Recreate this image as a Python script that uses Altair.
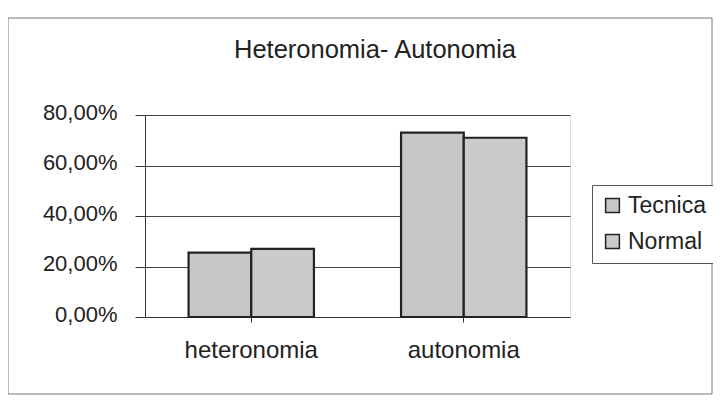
import altair as alt
import pandas as pd

categories = ["heteronomia", "heteronomia", "autonomia", "autonomia"]
series = ["Tecnica", "Normal", "Tecnica", "Normal"]
values = [0.255, 0.27, 0.73, 0.71]
title_text = "Heteronomia- Autonomia"

df = pd.DataFrame({"cat": categories, "serie": series, "val": values})

FONT = "Liberation Sans"
W, H = 425, 202

frame = alt.Chart(pd.DataFrame({"a": [0]})).mark_rect(
    fill=None, stroke="#777777", strokeWidth=1, clip=False
).encode(
    x=alt.value(-137), x2=alt.value(567), y=alt.value(-97), y2=alt.value(279)
)

title = alt.Chart(pd.DataFrame({"t": [title_text]})).mark_text(
    font=FONT, fontSize=25.5, color="#222222", align="center", baseline="alphabetic"
).encode(x=alt.value(230), y=alt.value(-57), text="t:N")

bars = alt.Chart(df).mark_bar(stroke="#222222", strokeWidth=2.2).encode(
    x=alt.X("cat:N", sort=["heteronomia", "autonomia"], title=None,
            scale=alt.Scale(paddingInner=0.41, paddingOuter=0.205),
            axis=alt.Axis(labelAngle=0, labelFontSize=24, labelFont=FONT,
                          labelColor="#222222", labelPadding=16, ticks=True,
                          tickColor="#333333", domainColor="#333333")),
    xOffset=alt.XOffset("serie:N", sort=["Tecnica", "Normal"],
                        scale=alt.Scale(paddingInner=0, paddingOuter=0)),
    y=alt.Y("val:Q", title=None,
            scale=alt.Scale(domain=[0, 0.8], nice=False),
            axis=alt.Axis(values=[0, 0.2, 0.4, 0.6, 0.8], format=".2%",
                          labelExpr="replace(format(datum.value, '.2%'), '.', ',')",
                          labelFontSize=22, labelFont=FONT, labelColor="#222222",
                          labelPadding=18, labelOffset=-3, tickColor="#333333",
                          tickSize=10, domainColor="#333333", grid=True,
                          gridColor="#444444", gridWidth=1)),
    color=alt.Color("serie:N", sort=["Tecnica", "Normal"],
                    scale=alt.Scale(domain=["Tecnica", "Normal"],
                                    range=["#c6c6c6", "#cacaca"]),
                    legend=alt.Legend(title=None, orient="none", legendX=W + 22,
                                      legendY=70, symbolType="square",
                                      symbolSize=190, symbolStrokeColor="#222222",
                                      symbolStrokeWidth=1.5, labelFontSize=23,
                                      labelFont=FONT, labelColor="#222222",
                                      rowPadding=12, strokeColor="#555555",
                                      padding=9, fillColor="white")),
)

chart = alt.layer(bars, frame, title).properties(
    width=W, height=H,
    autosize="none",
    padding={"left": 137, "top": 107, "right": 143, "bottom": 80},
).configure_view(fill="#dedede", stroke="#999999").configure(background="white")

chart.save("out.html", embed_options={"renderer": "svg", "actions": False})
